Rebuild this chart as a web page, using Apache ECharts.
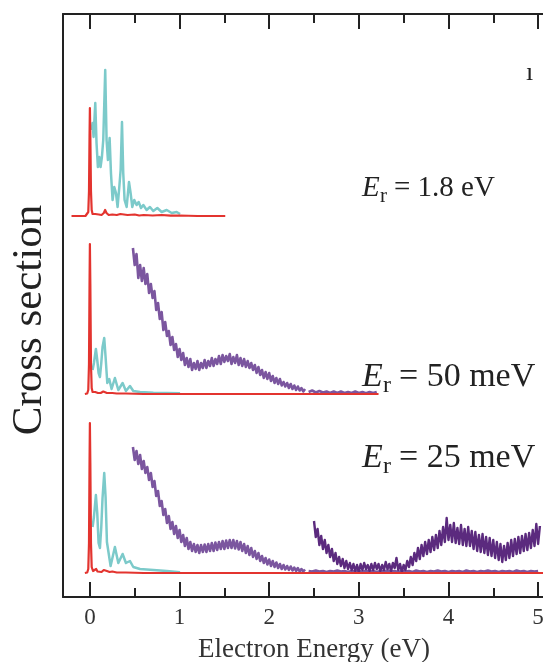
<!DOCTYPE html>
<html>
<head>
<meta charset="utf-8">
<script src="https://cdn.jsdelivr.net/npm/echarts@6/dist/echarts.min.js"></script>
<style>
  html, body { margin: 0; padding: 0; background: #fff; }
  #chart { width: 543px; height: 662px; }
</style>
</head>
<body>
<div id="chart"></div>
<script>
// Electron energy spectra for three resonance energies, stacked with vertical offsets.
const xTicks = [0, 1, 2, 3, 4, 5];
const xMinorTicks = [0.5, 1.5, 2.5, 3.5, 4.5];

// Vertical offsets of the three stacked spectra (arbitrary units).
const offsetTop = 381;   // E_r = 1.8 eV
const offsetMid = 203;   // E_r = 50 meV
const offsetLow = 24;    // E_r = 25 meV

const panelLabels = ['= 1.8 eV', '= 50 meV', '= 25 meV'];

// ---- E_r = 1.8 eV ----
const redTop = [[-0.205,0],[-0.05,0],[-0.03,0.5],[-0.018,4],[-0.01,25],[-0.004,80],[0,108],[0.005,80],[0.012,25],[0.02,6],[0.03,2],[0.045,1],[0.06,2],[0.08,1],[0.1,1.5],[0.13,1],[0.155,3],[0.17,6],[0.185,3],[0.21,1],[0.25,1.5],[0.3,1],[0.34,2],[0.36,4],[0.38,1.5],[0.42,1],[0.5,1.5],[0.55,0.5],[0.6,1],[0.7,0.5],[0.8,1],[0.9,0.3],[1.0,0.5],[1.2,0],[1.51,0]];
const cyanTop = [[0.019,86],[0.030,93],[0.041,79],[0.060,113],[0.074,73],[0.089,49],[0.104,59],[0.119,49],[0.134,59],[0.149,76],[0.171,146],[0.186,76],[0.201,56],[0.220,78],[0.235,43],[0.253,16],[0.272,29],[0.291,23],[0.309,9],[0.328,29],[0.343,46],[0.358,94],[0.372,43],[0.387,16],[0.410,9],[0.436,34],[0.454,23],[0.473,9],[0.495,16],[0.521,11],[0.544,14],[0.570,8],[0.596,11],[0.633,6],[0.670,9],[0.707,5],[0.752,8],[0.801,4],[0.857,6],[0.913,3],[0.968,4],[1.006,2]];

// ---- E_r = 50 meV ----
const redMid = [[-0.056,0],[-0.03,0.5],[-0.018,4],[-0.01,30],[-0.004,110],[0,150],[0.005,110],[0.012,30],[0.02,6],[0.03,2],[0.045,1],[0.06,2],[0.075,2.5],[0.09,1],[0.12,1],[0.15,2.5],[0.165,3],[0.19,1],[0.25,1],[0.3,0.5],[0.4,0.5],[0.6,0],[3.22,0]];
const cyanMid = [[0.030,24],[0.045,31],[0.067,45],[0.082,34],[0.097,21],[0.112,17],[0.127,31],[0.141,47],[0.160,56],[0.175,37],[0.194,11],[0.216,15],[0.242,5],[0.279,16],[0.317,4],[0.365,11],[0.402,3],[0.447,8],[0.484,3],[0.559,2],[0.708,1.3],[0.857,1],[1.006,0.7]];
const purpleMidStart = 0.48, purpleMidStep = 0.02;
const purpleMid = [146,129,140,116,129,113,126,110,120,101,110,96,103,84,91,75,82,64,72,58,63,49,57,44,50,37,45,34,41,29,36,27,35,24,31,25,33,24,31,26,34,26,33,28,36,28,35,30,38,30,39,32,38,33,40,30,37,31,39,29,36,28,35,27,33,26,31,24,29,21,27,19,24,16,22,15,21,13,18,11,16,10,15,8.5,12,7.5,11,6,10,5,8.5,4,7.5,3.5,6,2.5,5];
const purpleMidTailStart = 2.44, purpleMidTailStep = 0.04;
const purpleMidTail = [2,3.5,1.5,3,1.5,2.5,1,2.5,1,2.5,1,2,1,2.5,1,2,0.8,2,1,2];

// ---- E_r = 25 meV ----
const redLow = [[-0.056,0],[-0.03,0.5],[-0.018,4],[-0.01,30],[-0.004,110],[0,150],[0.005,110],[0.012,30],[0.02,6],[0.035,2],[0.05,1.5],[0.07,4],[0.085,1.5],[0.1,2],[0.13,1],[0.155,3],[0.17,5],[0.19,2],[0.22,1],[0.25,1.5],[0.3,0.5],[0.4,0.5],[0.6,0],[5.1,0]];
const cyanLow = [[0.030,46],[0.045,56],[0.067,78],[0.082,60],[0.097,30],[0.112,25],[0.127,46],[0.141,75],[0.160,100],[0.175,76],[0.190,31],[0.205,30],[0.231,7],[0.279,26],[0.317,10],[0.365,19],[0.402,10],[0.447,12],[0.484,6],[0.559,4],[0.708,3],[0.857,2],[1.006,0.7]];
const purpleLowStart = 0.48, purpleLowStep = 0.02;
const purpleLow = [126,113,122,109,118,104,112,100,106,93,100,86,92,77,82,67,72,58,64,50,57,44,51,39,47,35,43,31,38,27,35,24,31,22,29,21,28,20,28,21,28.5,21,29,22,30,22,30.5,23,31,24,32,24,32.5,25,33,25,33,24.5,32,23.5,31,22,29,20,27,18,25,16,22,14,20,12,17,10,15,8.5,13.5,7,12,6,10.5,5,9,4,8,3.5,7,3,6.5,2.5,5.5,2,5,1.5,4,1.5,3.5];
const purpleLowTailStart = 2.44, purpleLowTailStep = 0.04;
const purpleLowTail = [2,1.5,2.5,1.5,2,1,2,1.5,2.5,1.5,2,1,2,1.5,2,1,2.5,1.5,2,1,2,1.5,2.5,1.5,2,1,2,1.5,2,1,2.5,1.5,2,1,2,1.5,2.5,1.5,2,1,2,1.5,2,1,2.5,1.5,2,1,2,1.5,2.5,1.5,2,1,2,1.5,2,1,2.5,1.5,2,1,2,1.5,2];
const darkStart = 2.50, darkStep = 0.02;
const darkLow = [52,36,44,28,37,24,33,20,28,16,24,12,20,9,16,7,14,5,12,4,10,3,9,2,8,1,9,3,10,4,8,2,9,3,10,4,9,2,8,3,11,4,9,2,10,5,15,3,9,1,8,3,12,6,16,8,20,12,25,14,28,17,31,19,33,21,36,23,38,25,42,28,46,31,55,33,48,31,50,30,45,29,48,28,44,27,46,27,42,24,41,22,38,21,39,20,36,18,35,17,33,15,31,13,29,11,27,13,30,15,33,17,34,19,36,20,37,22,39,23,40,25,43,27,49,29,47];

// Helpers: shift a spectrum by its panel offset; sampled arrays use a regular energy grid.
const shiftPairs = (pairs, off) => pairs.map(p => [p[0], p[1] + off]);
const sampled = (start, step, vals, off) => vals.map((v, i) => [+(start + i * step).toFixed(3), v + off]);

const RED = '#e3342f', CYAN = '#7ccaca', PURPLE = '#7b569f', DARK = '#5b2a7e';
const serif = '"Liberation Serif", "Times New Roman", serif';

function line(data, color, width, z) {
  return { type: 'line', data, showSymbol: false, symbol: 'none', smooth: false, z: z,
    lineStyle: { color, width, join: 'round' }, animation: false, silent: true };
}

// The energy axis runs a little past the right edge of the page.
function tickAxis(position, values, len, showLine, showLabels) {
  return {
    type: 'value', position, min: -0.3, max: 5.3, gridIndex: 0,
    axisLine: { show: showLine, onZero: false, lineStyle: { color: '#222', width: 2 } },
    axisTick: { show: true, inside: true, length: len, customValues: values, lineStyle: { color: '#222', width: 2 } },
    axisLabel: showLabels ? { show: true, customValues: values, fontFamily: serif, fontSize: 23, color: '#333', margin: 9 } : { show: false },
    splitLine: { show: false }
  };
}

const bottomMain = tickAxis('bottom', xTicks, 15, true, true);
bottomMain.name = 'Electron Energy (eV)';
bottomMain.nameLocation = 'middle';
bottomMain.nameGap = 39;
bottomMain.nameTextStyle = { fontFamily: serif, fontSize: 27, color: '#333' };

const option = {
  backgroundColor: '#fff',
  animation: false,
  grid: { left: 63, right: -22, top: 14, bottom: 65, containLabel: false, outerBoundsMode: 'none' },
  xAxis: [
    bottomMain,
    tickAxis('bottom', xMinorTicks, 9, false, false),
    tickAxis('top', xTicks, 15, true, false),
    tickAxis('top', xMinorTicks, 9, false, false)
  ],
  yAxis: {
    type: 'value', min: 0, max: 583, position: 'left',
    axisLine: { show: true, onZero: false, lineStyle: { color: '#222', width: 2 } },
    axisTick: { show: false }, axisLabel: { show: false }, splitLine: { show: false }
  },
  series: [
    line(sampled(purpleMidStart, purpleMidStep, purpleMid, offsetMid), PURPLE, 2.6, 2),
    line(sampled(purpleMidTailStart, purpleMidTailStep, purpleMidTail, offsetMid), PURPLE, 2.6, 2),
    line(sampled(purpleLowStart, purpleLowStep, purpleLow, offsetLow), PURPLE, 2.6, 2),
    line(sampled(purpleLowTailStart, purpleLowTailStep, purpleLowTail, offsetLow), PURPLE, 2.6, 2),
    line(sampled(darkStart, darkStep, darkLow, offsetLow), DARK, 2.4, 3),
    line(shiftPairs(cyanTop, offsetTop), CYAN, 2.5, 4),
    line(shiftPairs(cyanMid, offsetMid), CYAN, 2.5, 4),
    line(shiftPairs(cyanLow, offsetLow), CYAN, 2.5, 4),
    line(shiftPairs(redTop, offsetTop), RED, 2.2, 5),
    line(shiftPairs(redMid, offsetMid), RED, 2.2, 5),
    line(shiftPairs(redLow, offsetLow), RED, 2.2, 5)
  ]
};

const chart = echarts.init(document.getElementById('chart'), null, { renderer: 'canvas' });
chart.setOption(option);

// Resonance-energy labels: italic E with subscript r, then the value.
function erLabel(left, top, rest, size) {
  const sub = Math.round(size * 0.72);
  return {
    type: 'group', left: left, top: top,
    children: [
      { type: 'text', x: 0, y: 0, style: { text: 'E', font: 'italic ' + size + 'px ' + serif, fill: '#222' } },
      { type: 'text', x: Math.round(size * 0.62), y: Math.round(size * 0.4), style: { text: 'r', font: sub + 'px ' + serif, fill: '#222' } },
      { type: 'text', x: Math.round(size * 1.1), y: 0, style: { text: rest, font: size + 'px ' + serif, fill: '#222' } }
    ]
  };
}

chart.setOption({
  graphic: [
    erLabel(362, 174, panelLabels[0], 29),
    erLabel(362, 360, panelLabels[1], 34),
    erLabel(362, 441, panelLabels[2], 34),
    { type: 'text', left: 526, top: 60, style: { text: 'ı', font: '26px ' + serif, fill: '#222' } },
    { type: 'text', x: 30, y: 320, rotation: Math.PI / 2,
      style: { text: 'Cross section', font: '43px ' + serif, fill: '#222', align: 'center', verticalAlign: 'middle' } }
  ]
});
</script>
</body>
</html>
